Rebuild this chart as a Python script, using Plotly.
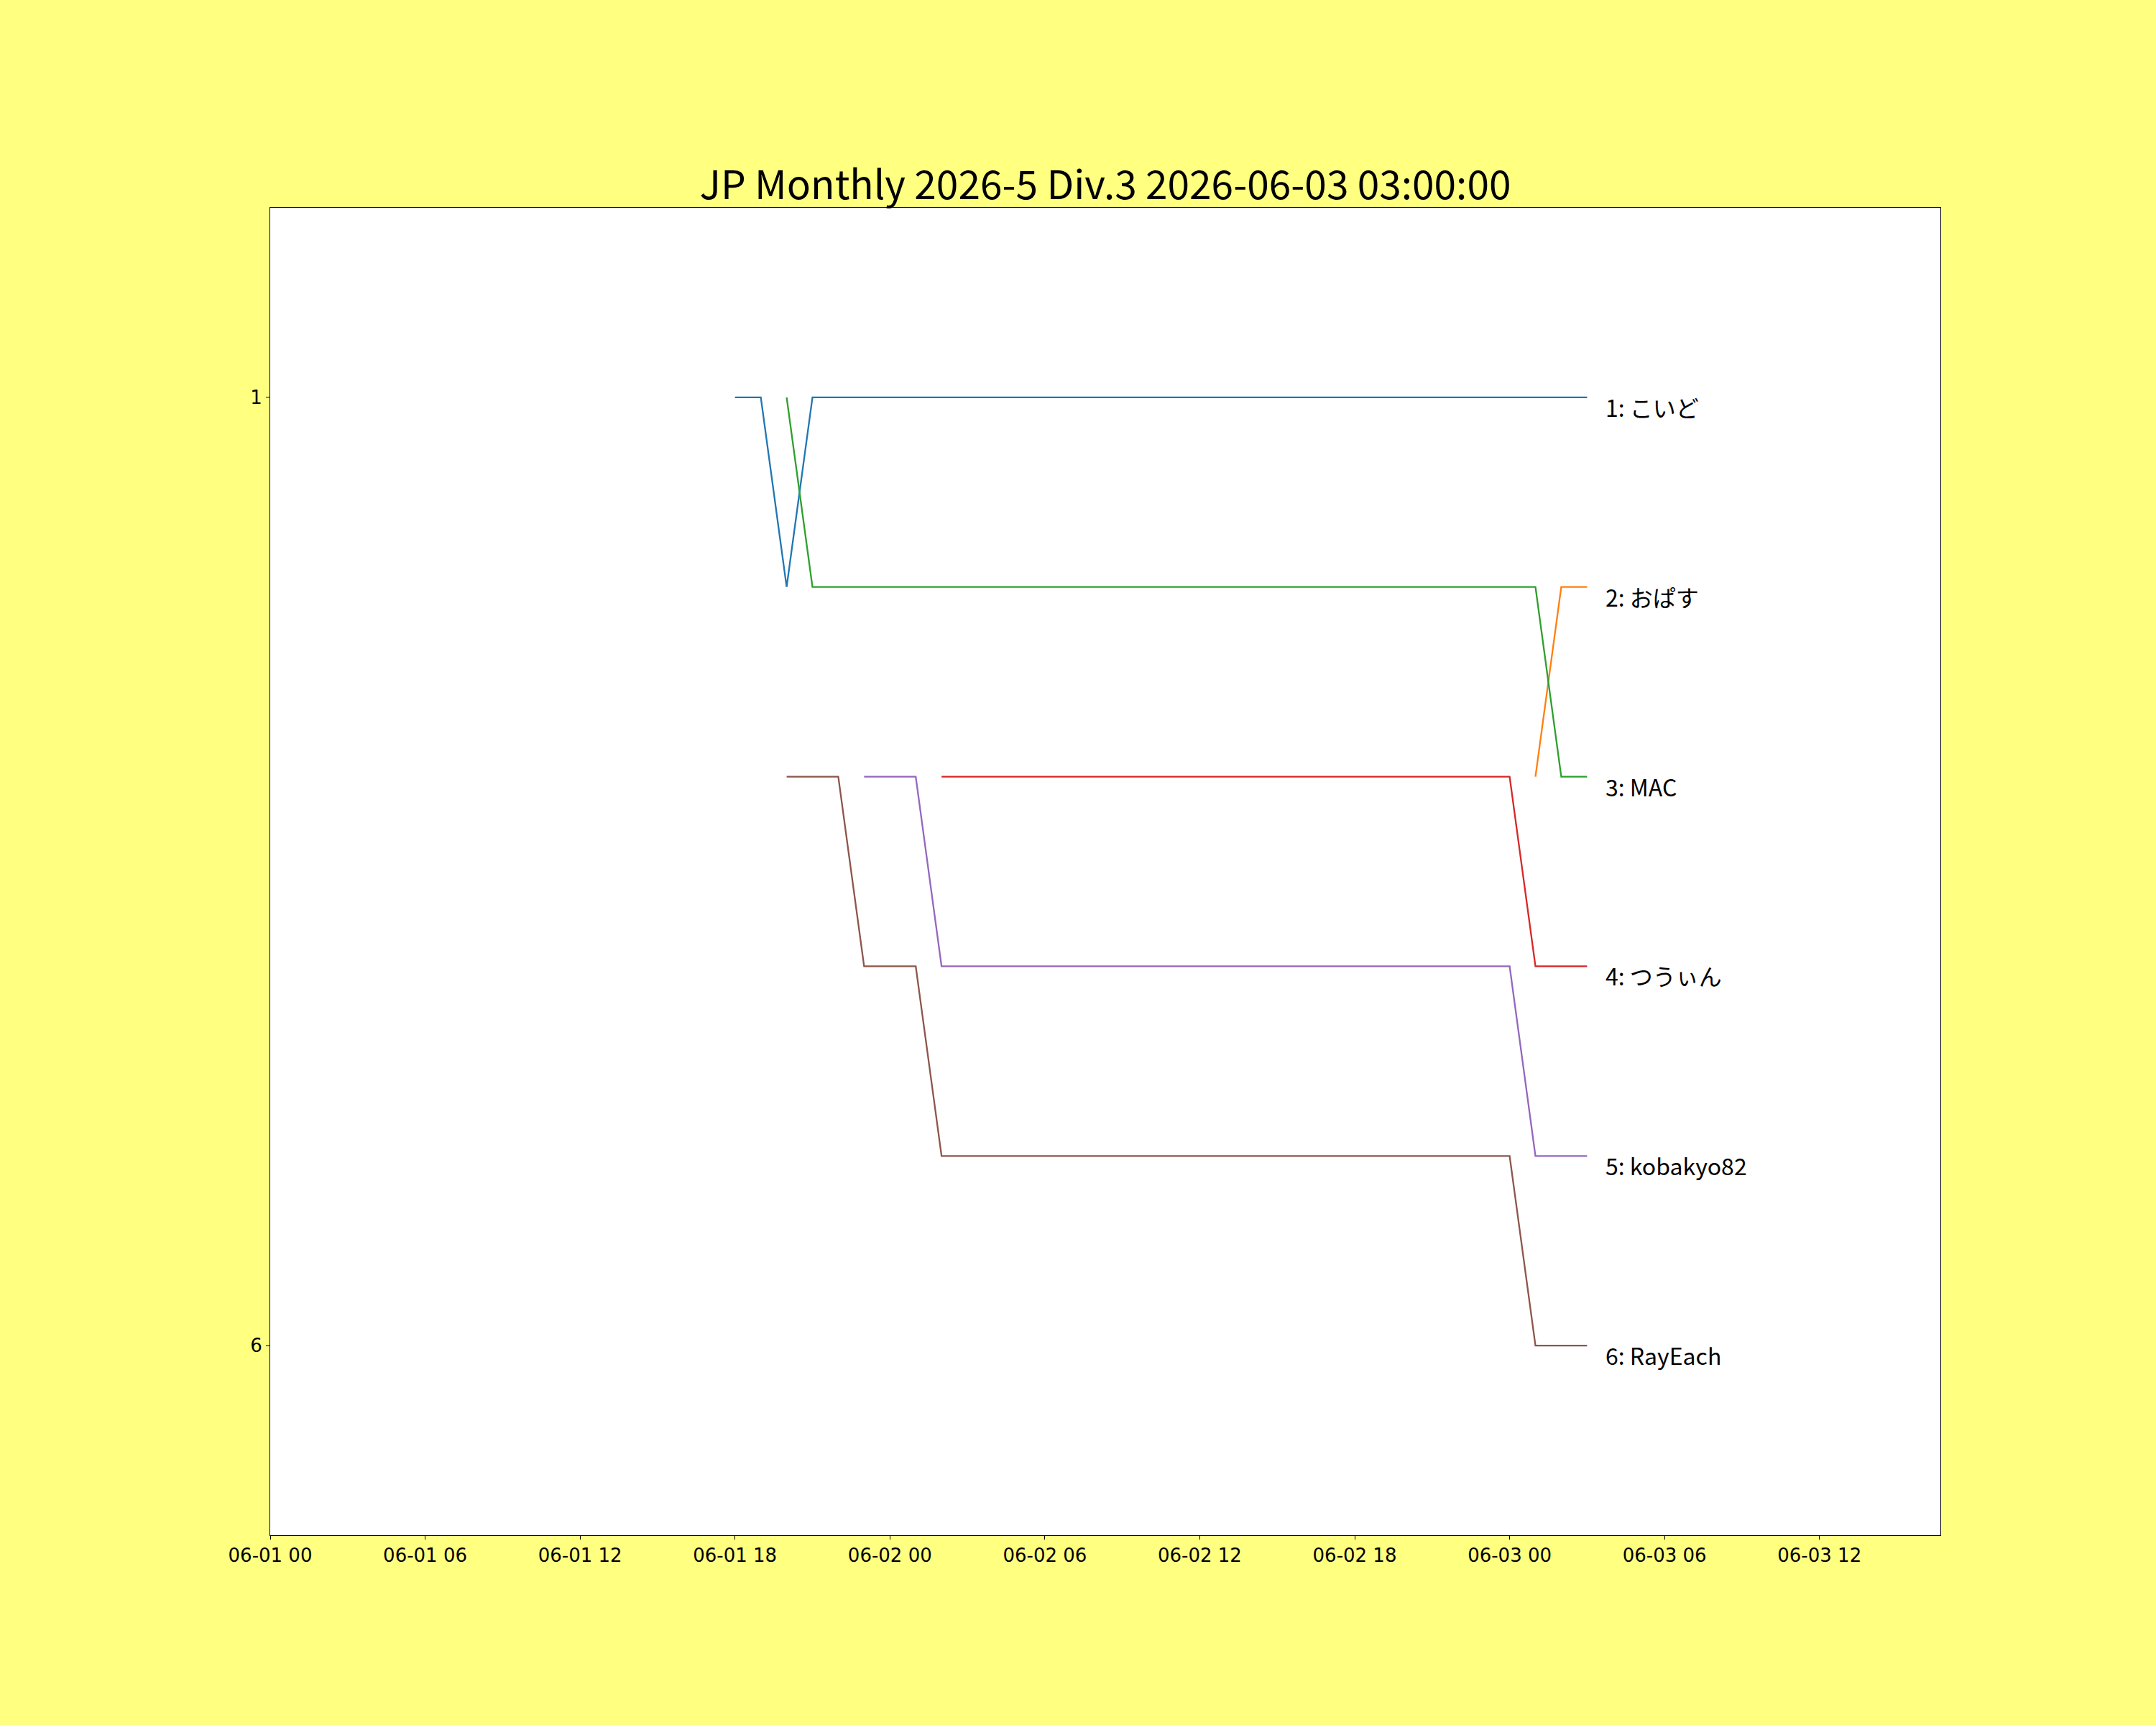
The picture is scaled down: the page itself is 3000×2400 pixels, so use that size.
import plotly.graph_objects as go
import pandas as pd

# ---- data ----
times = pd.date_range("2026-06-01 18:00", "2026-06-03 03:00", freq="h").strftime("%Y-%m-%d %H:%M").tolist()

N = None
rank_koido = [1, 1, 2] + [1] * 31
rank_opasu = [N] * 31 + [3, 2, 2]
rank_mac = [N, N, 1] + [2] * 29 + [3, 3]
rank_twin = [N] * 8 + [3] * 23 + [4, 4, 4]
rank_kobakyo = [N] * 5 + [3, 3, 3] + [4] * 23 + [5, 5, 5]
rank_rayeach = [N, N] + [3, 3, 3] + [4, 4, 4] + [5] * 23 + [6, 6, 6]

player_names = ["こいど", "おぱす", "MAC", "つうぃん", "kobakyo82", "RayEach"]
player_ranks = [rank_koido, rank_opasu, rank_mac, rank_twin, rank_kobakyo, rank_rayeach]
colors = ["#1f77b4", "#ff7f0e", "#2ca02c", "#d62728", "#9467bd", "#8c564b"]

final_ranks = [1, 2, 3, 4, 5, 6]
final_labels = ["1: こいど", "2: おぱす", "3: MAC", "4: つうぃん", "5: kobakyo82", "6: RayEach"]
label_x = "2026-06-03 03:40"

x_tickvals = pd.date_range("2026-06-01 00:00", "2026-06-03 12:00", freq="6h").strftime("%Y-%m-%d %H:%M").tolist()
x_ticktext = pd.date_range("2026-06-01 00:00", "2026-06-03 12:00", freq="6h").strftime("%m-%d %H").tolist()
y_tickvals = [1, 6]

title_text = "JP Monthly 2026-5 Div.3 2026-06-03 03:00:00"

# ---- figure ----
fig = go.Figure()
for name, ranks, c in zip(player_names, player_ranks, colors):
    fig.add_trace(go.Scatter(x=times, y=ranks, mode="lines", name=name,
                             line=dict(color=c, width=2.3), connectgaps=False,
                             showlegend=False))

for r, lab in zip(final_ranks, final_labels):
    fig.add_annotation(x=label_x, y=r, text=lab, showarrow=False,
                       xanchor="left", yanchor="middle", yshift=-13,
                       font=dict(family="Noto Sans CJK JP", size=32, color="black"))

fig.update_layout(
    width=3000, height=2400,
    paper_bgcolor="#ffff80", plot_bgcolor="white",
    margin=dict(l=376, r=300, t=289, b=264, pad=0),
    title=dict(text=title_text, x=0.5, xanchor="center", xref="paper",
               y=1, yref="paper", yanchor="bottom", pad=dict(b=12),
               font=dict(family="Noto Sans CJK JP", size=55, color="black")),
    font=dict(family="DejaVu Sans", size=25, color="black"),
)
fig.update_xaxes(type="date", range=["2026-06-01 00:00", "2026-06-03 16:41"],
                 tickvals=x_tickvals, ticktext=x_ticktext,
                 showgrid=False, zeroline=False,
                 showline=True, linecolor="black", linewidth=1.1, mirror=True,
                 ticks="outside", ticklen=5, tickwidth=1.1, tickcolor="black",
                 tickfont=dict(family="DejaVu Sans", size=26))
fig.update_yaxes(range=[7, 0], tickvals=y_tickvals, ticktext=[str(v) for v in y_tickvals],
                 showgrid=False, zeroline=False,
                 showline=True, linecolor="black", linewidth=1.1, mirror=True,
                 ticks="outside", ticklen=5, tickwidth=1.1, tickcolor="black",
                 tickfont=dict(family="DejaVu Sans", size=26))

fig.write_html("out.html", config={"displayModeBar": False},
               post_script="document.body.style.margin='0';document.body.style.background='#ffff80';")
